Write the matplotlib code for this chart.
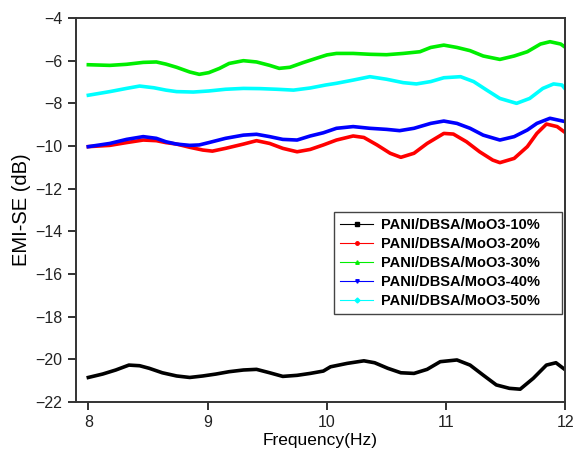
import matplotlib
matplotlib.use('Agg')
import matplotlib.pyplot as plt
from matplotlib.lines import Line2D

# data (frequency in Hz, EMI-SE in dB)
f_10 = [8.00, 8.12, 8.23, 8.34, 8.43, 8.51, 8.62, 8.74, 8.85, 8.96, 9.07, 9.18, 9.30, 9.41,
        9.52, 9.63, 9.75, 9.86, 9.97, 10.03, 10.17, 10.31, 10.40, 10.51, 10.62, 10.73, 10.84,
        10.95, 11.09, 11.20, 11.31, 11.42, 11.53, 11.62, 11.73, 11.84, 11.92, 12.00]
se_10 = [-20.85, -20.69, -20.50, -20.27, -20.30, -20.42, -20.63, -20.78, -20.85, -20.78, -20.69,
         -20.58, -20.50, -20.47, -20.63, -20.80, -20.75, -20.66, -20.55, -20.35, -20.19, -20.07,
         -20.16, -20.42, -20.63, -20.66, -20.47, -20.11, -20.03, -20.27, -20.74, -21.20, -21.36,
         -21.40, -20.89, -20.27, -20.16, -20.50]

f_20 = [8.00, 8.18, 8.32, 8.46, 8.57, 8.65, 8.74, 8.85, 8.96, 9.04, 9.15, 9.30, 9.41, 9.52,
        9.63, 9.75, 9.86, 9.97, 10.08, 10.22, 10.31, 10.42, 10.53, 10.62, 10.73, 10.84, 10.98,
        11.06, 11.17, 11.28, 11.39, 11.45, 11.57, 11.68, 11.76, 11.84, 11.93, 12.00]
se_20 = [-10.03, -9.97, -9.84, -9.72, -9.75, -9.84, -9.91, -10.06, -10.19, -10.24, -10.11,
         -9.91, -9.75, -9.88, -10.11, -10.27, -10.16, -9.95, -9.72, -9.53, -9.60, -9.95, -10.34,
         -10.53, -10.34, -9.88, -9.41, -9.44, -9.80, -10.27, -10.66, -10.78, -10.58, -10.03,
         -9.41, -8.97, -9.09, -9.38]

f_30 = [8.00, 8.18, 8.32, 8.46, 8.57, 8.65, 8.74, 8.85, 8.93, 9.01, 9.10, 9.18, 9.30, 9.41,
        9.52, 9.60, 9.69, 9.80, 9.91, 10.00, 10.08, 10.22, 10.36, 10.50, 10.64, 10.78, 10.87,
        10.98, 11.09, 11.20, 11.31, 11.45, 11.57, 11.68, 11.79, 11.87, 11.96, 12.00]
se_30 = [-6.19, -6.22, -6.17, -6.08, -6.06, -6.16, -6.31, -6.53, -6.64, -6.56, -6.36, -6.13,
         -6.00, -6.06, -6.22, -6.36, -6.31, -6.09, -5.89, -5.73, -5.66, -5.66, -5.70, -5.72,
         -5.66, -5.58, -5.38, -5.27, -5.38, -5.53, -5.78, -5.94, -5.78, -5.58, -5.22, -5.11,
         -5.22, -5.38]

f_40 = [8.00, 8.18, 8.32, 8.46, 8.57, 8.65, 8.74, 8.85, 8.93, 9.01, 9.15, 9.30, 9.41, 9.52,
        9.63, 9.75, 9.86, 9.97, 10.08, 10.22, 10.36, 10.50, 10.61, 10.73, 10.87, 10.98, 11.09,
        11.20, 11.31, 11.45, 11.57, 11.68, 11.76, 11.87, 12.00]
se_40 = [-10.03, -9.88, -9.69, -9.56, -9.64, -9.80, -9.91, -9.97, -9.95, -9.84, -9.64, -9.49,
         -9.45, -9.56, -9.69, -9.72, -9.53, -9.38, -9.17, -9.09, -9.17, -9.22, -9.28, -9.17,
         -8.94, -8.83, -8.94, -9.17, -9.49, -9.72, -9.56, -9.25, -8.94, -8.70, -8.86]

f_50 = [8.00, 8.18, 8.32, 8.43, 8.55, 8.65, 8.74, 8.88, 9.01, 9.15, 9.30, 9.44, 9.58, 9.72,
        9.86, 9.99, 10.08, 10.22, 10.36, 10.50, 10.64, 10.75, 10.87, 10.98, 11.12, 11.23, 11.34,
        11.45, 11.59, 11.70, 11.81, 11.90, 11.97, 12.00]
se_50 = [-7.62, -7.45, -7.30, -7.19, -7.27, -7.38, -7.45, -7.47, -7.42, -7.34, -7.30, -7.31,
         -7.34, -7.38, -7.28, -7.14, -7.06, -6.91, -6.75, -6.87, -7.03, -7.09, -6.98, -6.80,
         -6.75, -6.98, -7.38, -7.77, -8.00, -7.77, -7.30, -7.09, -7.14, -7.34]

labels = ['PANI/DBSA/MoO3-10%', 'PANI/DBSA/MoO3-20%', 'PANI/DBSA/MoO3-30%',
          'PANI/DBSA/MoO3-40%', 'PANI/DBSA/MoO3-50%']

plt.rcParams['font.family'] = ['Liberation Sans', 'DejaVu Sans']

fig = plt.figure(figsize=(5.73, 4.55), dpi=100)
ax = fig.add_axes([0.1321, 0.1165, 0.8548, 0.8439])

series = [(f_10, se_10, 'black', 's'),
          (f_20, se_20, '#ff0000', 'o'),
          (f_30, se_30, '#00ee00', '^'),
          (f_40, se_40, '#0000ff', 'v'),
          (f_50, se_50, '#00ffff', 'D')]

handles = []
for (fx, fy, col, mk), lab in zip(series, labels):
    ax.plot(fx, fy, color=col, lw=2.6, solid_joinstyle='round')
    handles.append(Line2D([], [], color=col, lw=0.8, marker=mk, markersize=2.5,
                          markerfacecolor='black' if col == 'black' else col,
                          markeredgecolor=col))

ax.set_xlim(7.894, 12)
ax.set_ylim(-22, -4)
ax.set_xticks([8, 9, 10, 11, 12])
ax.set_yticks(range(-22, -3, 2))
ax.tick_params(direction='out', length=6, width=1.3, labelsize=11.5, colors='#222222',
               top=False, right=False)
for sp in ax.spines.values():
    sp.set_linewidth(1.4)
    sp.set_color('#333333')

ax.set_xlabel('Frequency(Hz)', fontsize=12.5, labelpad=2)
ax.set_ylabel('EMI-SE (dB)', fontsize=14.5, labelpad=3)

# trailing spaces give the wider right margin seen in the original legend box
leg = ax.legend(handles, [l + '    ' for l in labels], loc='upper right',
                bbox_to_anchor=(0.993, 0.495),
                borderaxespad=0, fancybox=False, edgecolor='#444444', framealpha=1,
                prop={'weight': 'bold', 'size': 10.5}, handlelength=2.3,
                labelspacing=0.35, handletextpad=0.5, borderpad=0.4)
leg.get_frame().set_linewidth(1.0)

fig.savefig('out.png', dpi=100)
